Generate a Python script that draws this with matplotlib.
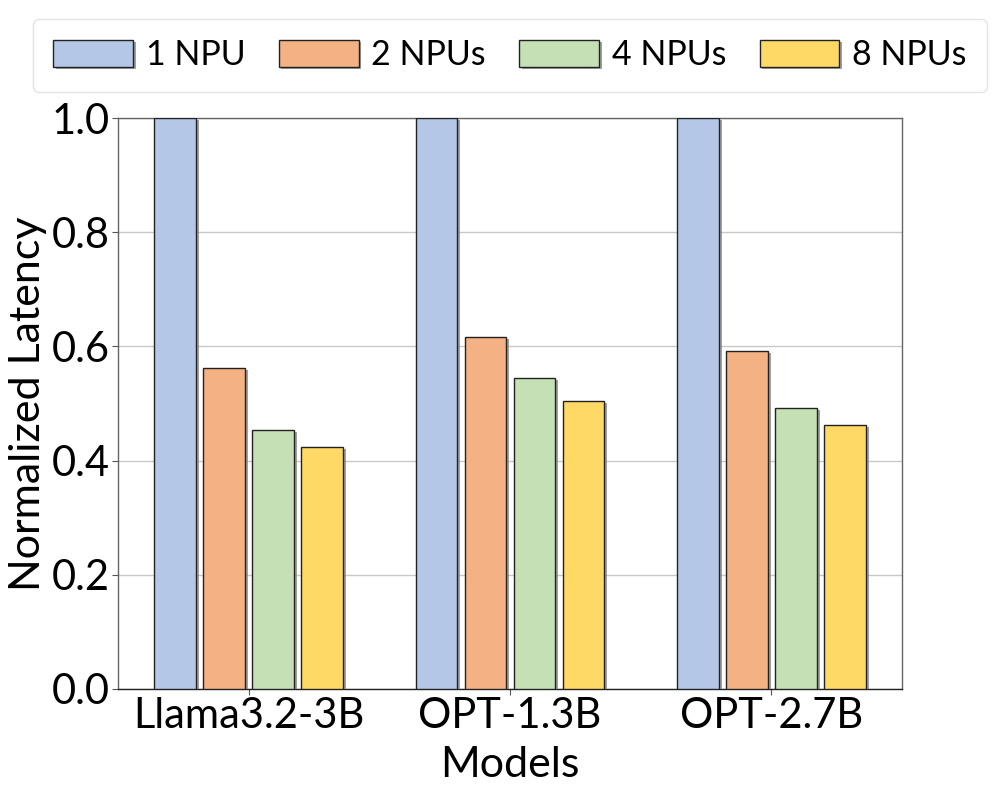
import matplotlib
matplotlib.use("Agg")
import matplotlib.pyplot as plt
import matplotlib.patheffects as pe
import numpy as np

models = ["Llama3.2-3B", "OPT-1.3B", "OPT-2.7B"]
series_names = ["1 NPU", "2 NPUs", "4 NPUs", "8 NPUs"]
npu1 = [1.0, 1.0, 1.0]
npu2 = [0.562, 0.617, 0.592]
npu4 = [0.454, 0.545, 0.492]
npu8 = [0.424, 0.504, 0.462]
colors = ["#B4C7E7", "#F4B183", "#C5E0B4", "#FFD966"]

plt.rcParams['font.family'] = ['Lato', 'DejaVu Sans']

fig = plt.figure(figsize=(9.96, 7.97), dpi=100)
ax = fig.add_axes([118/996, 1-689/797, (902-118)/996, (689-118)/797])

x = np.arange(len(models))
width = 0.16
slot = 0.1875
offsets = [-1.5*slot, -0.5*slot, 0.5*slot, 1.5*slot]
all_vals = [npu1, npu2, npu4, npu8]
for i, (vals, name, c) in enumerate(zip(all_vals, series_names, colors)):
    ax.bar(x + offsets[i], vals, width, color=c, edgecolor="#222222", linewidth=1.0,
           label=name, zorder=3,
           path_effects=[pe.SimplePatchShadow(offset=(2, -1.5), shadow_rgbFace="#888888", alpha=0.8), pe.Normal()])

ax.set_xlim(-0.5, 2.5)
ax.set_ylim(0, 1.0)
ax.set_yticks([0, 0.2, 0.4, 0.6, 0.8, 1.0])
ax.set_yticklabels(["0.0", "0.2", "0.4", "0.6", "0.8", "1.0"])
ax.set_xticks(x)
ax.set_xticklabels(models)
ax.tick_params(axis='both', labelsize=30, colors="black", length=4, pad=2)
ax.tick_params(axis='both', color="#555555")
ax.yaxis.grid(True, color="#c8c8c8", linewidth=1.0, zorder=0)
ax.set_axisbelow(True)
for s in ax.spines.values():
    s.set_color("#666666")
    s.set_linewidth(1.0)
ax.spines['bottom'].set_color("#222222")

ax.set_xlabel("Models", fontsize=31, labelpad=8)
ax.set_ylabel("Normalized Latency", fontsize=31, labelpad=3)

leg = fig.legend(loc="upper center", bbox_to_anchor=(510/996, 1-19/797), ncol=4, fontsize=24.5,
                 frameon=True, fancybox=True, edgecolor="#dddddd", handlelength=2.35,
                 handleheight=0.82, columnspacing=0.97, handletextpad=0.38, borderpad=0.6,
                 borderaxespad=0)
fig.savefig("out.png", dpi=100)
